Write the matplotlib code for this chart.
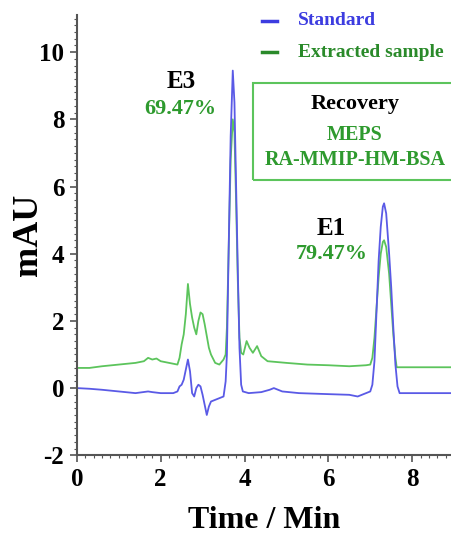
import numpy as np
import matplotlib
matplotlib.use("Agg")
import matplotlib.pyplot as plt
from matplotlib.ticker import MultipleLocator
from matplotlib.patches import Rectangle

plt.rcParams['axes.unicode_minus'] = False

# Standard (blue) trace
std_t = [0.0, 0.3, 0.6, 1.0, 1.4, 1.7, 1.8, 2.0, 2.3, 2.4, 2.45, 2.5, 2.55, 2.6, 2.65,
         2.7, 2.75, 2.8, 2.85, 2.9, 2.95, 3.0, 3.05, 3.1, 3.15, 3.2, 3.3, 3.4, 3.5,
         3.55, 3.58, 3.62, 3.67, 3.72, 3.76, 3.8, 3.84, 3.88, 3.92, 3.96, 4.1, 4.4,
         4.6, 4.7, 4.9, 5.3, 6.0, 6.5, 6.7, 6.9, 7.0, 7.05, 7.1, 7.15, 7.2, 7.25,
         7.3, 7.33, 7.38, 7.45, 7.5, 7.55, 7.6, 7.65, 7.7, 8.0, 9.0]
std_y = [0.0, -0.02, -0.05, -0.1, -0.15, -0.1, -0.12, -0.15, -0.15, -0.1, 0.05, 0.1, 0.25, 0.55, 0.85,
         0.5, -0.15, -0.25, 0.0, 0.1, 0.05, -0.2, -0.5, -0.8, -0.55, -0.4, -0.35, -0.3, -0.25,
         0.2, 1.0, 4.0, 7.5, 9.45, 8.5, 6.0, 3.5, 1.2, 0.1, -0.1, -0.15, -0.12,
         -0.05, 0.0, -0.1, -0.15, -0.18, -0.2, -0.25, -0.15, -0.1, 0.1, 0.8, 2.3, 3.8, 4.8,
         5.4, 5.5, 5.2, 4.0, 3.0, 1.8, 0.7, 0.05, -0.15, -0.15, -0.15]

# Extracted sample (green) trace
ext_t = [0.0, 0.3, 0.6, 1.0, 1.4, 1.6, 1.7, 1.8, 1.9, 2.0, 2.2, 2.4, 2.45, 2.5, 2.55, 2.6,
         2.65, 2.7, 2.75, 2.8, 2.85, 2.9, 2.95, 3.0, 3.05, 3.1, 3.15, 3.2, 3.3, 3.4,
         3.5, 3.55, 3.58, 3.62, 3.67, 3.72, 3.76, 3.8, 3.84, 3.88, 3.92, 3.97, 4.05,
         4.12, 4.2, 4.3, 4.4, 4.55, 5.0, 5.5, 6.0, 6.5, 6.9, 7.0, 7.05, 7.1, 7.15,
         7.2, 7.25, 7.3, 7.33, 7.38, 7.45, 7.5, 7.55, 7.6, 7.63, 8.0, 9.0]
ext_y = [0.6, 0.6, 0.65, 0.7, 0.75, 0.8, 0.9, 0.85, 0.88, 0.8, 0.75, 0.7, 0.9, 1.3, 1.6, 2.2,
         3.1, 2.5, 2.1, 1.8, 1.6, 2.0, 2.25, 2.2, 1.9, 1.55, 1.2, 1.0, 0.75, 0.7,
         0.85, 1.0, 1.8, 4.0, 6.8, 8.0, 7.6, 5.5, 3.2, 1.5, 1.05, 1.0, 1.4,
         1.2, 1.05, 1.25, 0.95, 0.8, 0.75, 0.7, 0.68, 0.65, 0.68, 0.7, 0.9, 1.5, 2.4,
         3.3, 4.0, 4.35, 4.4, 4.2, 3.4, 2.5, 1.6, 0.9, 0.62, 0.62, 0.62]

blue = "#5a5ae6"
green = "#5cc45c"
text_green = "#2e9a2e"
serif = ["Liberation Serif", "DejaVu Serif"]

fig = plt.figure(figsize=(4.52, 5.42), dpi=100)
ax = fig.add_axes([0.170, 0.160, 0.830, 0.812])

ax.plot(ext_t, ext_y, color=green, linewidth=1.3)
ax.plot(std_t, std_y, color=blue, linewidth=1.3)

ax.set_xlim(0, 8.95)
ax.set_ylim(-2, 11.1)
ax.spines['right'].set_visible(False)
ax.spines['top'].set_visible(False)
ax.spines['left'].set_color('#555555')
ax.spines['bottom'].set_color('#555555')
ax.spines['left'].set_linewidth(1.5)
ax.spines['bottom'].set_linewidth(1.5)

ax.xaxis.set_major_locator(MultipleLocator(2))
ax.xaxis.set_minor_locator(MultipleLocator(0.2))
ax.yaxis.set_major_locator(MultipleLocator(2))
ax.yaxis.set_minor_locator(MultipleLocator(0.2))
ax.tick_params(which='major', length=5, width=1.2, color='#555555', pad=4)
ax.tick_params(which='minor', length=2.5, width=0.8, color='#555555')
for label in ax.get_xticklabels() + ax.get_yticklabels():
    label.set_fontfamily(serif)
    label.set_fontweight('bold')
    label.set_fontsize(18)

ax.set_xlabel("Time / Min", fontfamily=serif, fontweight='bold', fontsize=23, labelpad=11)
ax.set_ylabel("mAU", fontfamily=serif, fontweight='bold', fontsize=26)
ax.yaxis.set_label_coords(-0.085, 0.50)

# peak labels
ax.text(2.48, 9.13, "E3", fontfamily=serif, fontweight='bold', fontsize=18, ha='center', va='center')
ax.text(2.48, 8.3, "69.47%", fontfamily=serif, fontweight='bold', fontsize=16,
        color=text_green, ha='center', va='center')
ax.text(6.06, 4.75, "E1", fontfamily=serif, fontweight='bold', fontsize=18, ha='center', va='center')
ax.text(6.08, 4.0, "79.47%", fontfamily=serif, fontweight='bold', fontsize=16,
        color=text_green, ha='center', va='center')

# legend drawn by hand (text coloured like lines)
for yy, col, name in [(10.93, "#3c3ce0", "Standard"), (10.0, "#2a8a2a", "Extracted sample")]:
    ax.plot([4.42, 4.77], [yy, yy], color=col, linewidth=2.5, clip_on=False)
    ax.text(5.27, yy, name, fontfamily=serif, fontweight='bold', fontsize=14,
            color=col, ha='left', va='center', clip_on=False)

# recovery box
ax.add_patch(Rectangle((4.2, 6.18), 5.2, 2.89, transform=ax.transData,
                       facecolor='none', edgecolor=green, linewidth=1.5, clip_on=False))
ax.text(6.63, 8.45, "Recovery", fontfamily=serif, fontweight='bold', fontsize=16,
        ha='center', va='center')
ax.text(6.63, 7.52, "MEPS", fontfamily=serif, fontweight='bold', fontsize=14.5,
        color=text_green, ha='center', va='center')
ax.text(6.63, 6.8, "RA-MMIP-HM-BSA", fontfamily=serif, fontweight='bold', fontsize=14.5,
        color=text_green, ha='center', va='center')

fig.savefig("out.png", dpi=100)
